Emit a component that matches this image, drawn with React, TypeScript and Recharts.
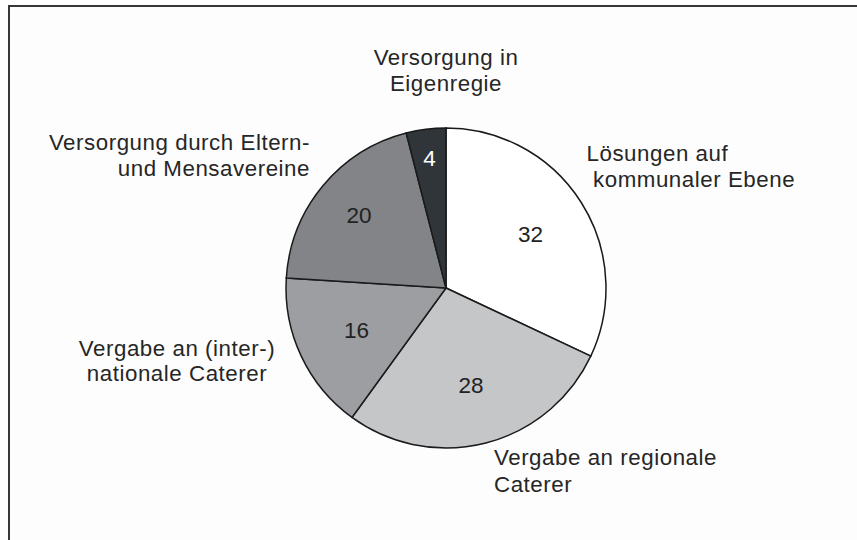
import { PieChart, Pie, Cell } from 'recharts';

// Anteile der Versorgungsformen (Prozent)
const CATEGORIES = [
  ['Lösungen auf', 'kommunaler Ebene'],
  ['Vergabe an regionale', 'Caterer'],
  ['Vergabe an (inter-)', 'nationale Caterer'],
  ['Versorgung durch Eltern-', 'und Mensavereine'],
  ['Versorgung in', 'Eigenregie'],
];
const VALUES = [32, 28, 16, 20, 4];

const FILLS = ['#ffffff', '#c5c6c8', '#9d9ea1', '#838487', '#30353a'];
const VALUE_COLORS = ['#222', '#222', '#222', '#222', '#ffffff'];
const VALUE_RADIUS = [100, 101, 99, 113, 131];

// outer label placement, relative to the pie centre
const LABEL_LAYOUT = [
  { x: [140.5, 147], y: [-126.8, -101.4], anchor: 'start' },
  { x: [48, 48], y: [176.8, 203.8], anchor: 'start' },
  { x: [-269, -269], y: [67.6, 93], anchor: 'middle' },
  { x: [-136, -136], y: [-137.8, -112.4], anchor: 'end' },
  { x: [0, 0], y: [-223, -197.5], anchor: 'middle' },
];

const FONT = '"Liberation Sans", Arial, sans-serif';
const TEXT_COLOR = '#262626';

const data = VALUES.map((v, i) => ({ name: CATEGORIES[i].join(' '), value: v }));

const RAD = Math.PI / 180;

function renderLabel(props: any) {
  const { cx, cy, midAngle, index, value } = props;
  const r = VALUE_RADIUS[index];
  const vx = cx + r * Math.cos(-midAngle * RAD);
  const vy = cy + r * Math.sin(-midAngle * RAD);
  const lay = LABEL_LAYOUT[index];
  return (
    <g>
      <text
        x={vx}
        y={vy}
        textAnchor="middle"
        dominantBaseline="central"
        fontFamily={FONT}
        fontSize={22.5}
        fill={VALUE_COLORS[index]}
      >
        {value}
      </text>
      <text
        textAnchor={lay.anchor}
        fontFamily={FONT}
        fontSize={22.3}
        letterSpacing={0.55}
        fill={TEXT_COLOR}
      >
        {CATEGORIES[index].map((line, k) => (
          <tspan key={k} x={cx + lay.x[k]} y={cy + lay.y[k]}>
            {line}
          </tspan>
        ))}
      </text>
    </g>
  );
}

export default function App() {
  return (
    <div
      style={{
        position: 'absolute',
        left: 0,
        top: 0,
        width: 857,
        height: 540,
        overflow: 'hidden',
        background: '#ffffff',
      }}
    >
      <div
        style={{
          position: 'absolute',
          left: 8,
          top: 5,
          width: 900,
          height: 600,
          borderLeft: '2px solid #383838',
          borderTop: '2px solid #383838',
          background: '#fdfdfd',
        }}
      />
      <div style={{ position: 'absolute', left: 0, top: 0 }}>
        <PieChart width={857} height={540} margin={{ top: 0, right: 0, bottom: 0, left: 0 }}>
          <Pie
            data={data}
            dataKey="value"
            cx={446}
            cy={288}
            outerRadius={160}
            startAngle={90}
            endAngle={-270}
            stroke="#1a1a1a"
            strokeWidth={1.5}
            label={renderLabel}
            labelLine={false}
            isAnimationActive={false}
          >
            {data.map((d, i) => (
              <Cell key={d.name} fill={FILLS[i]} />
            ))}
          </Pie>
        </PieChart>
      </div>
    </div>
  );
}
